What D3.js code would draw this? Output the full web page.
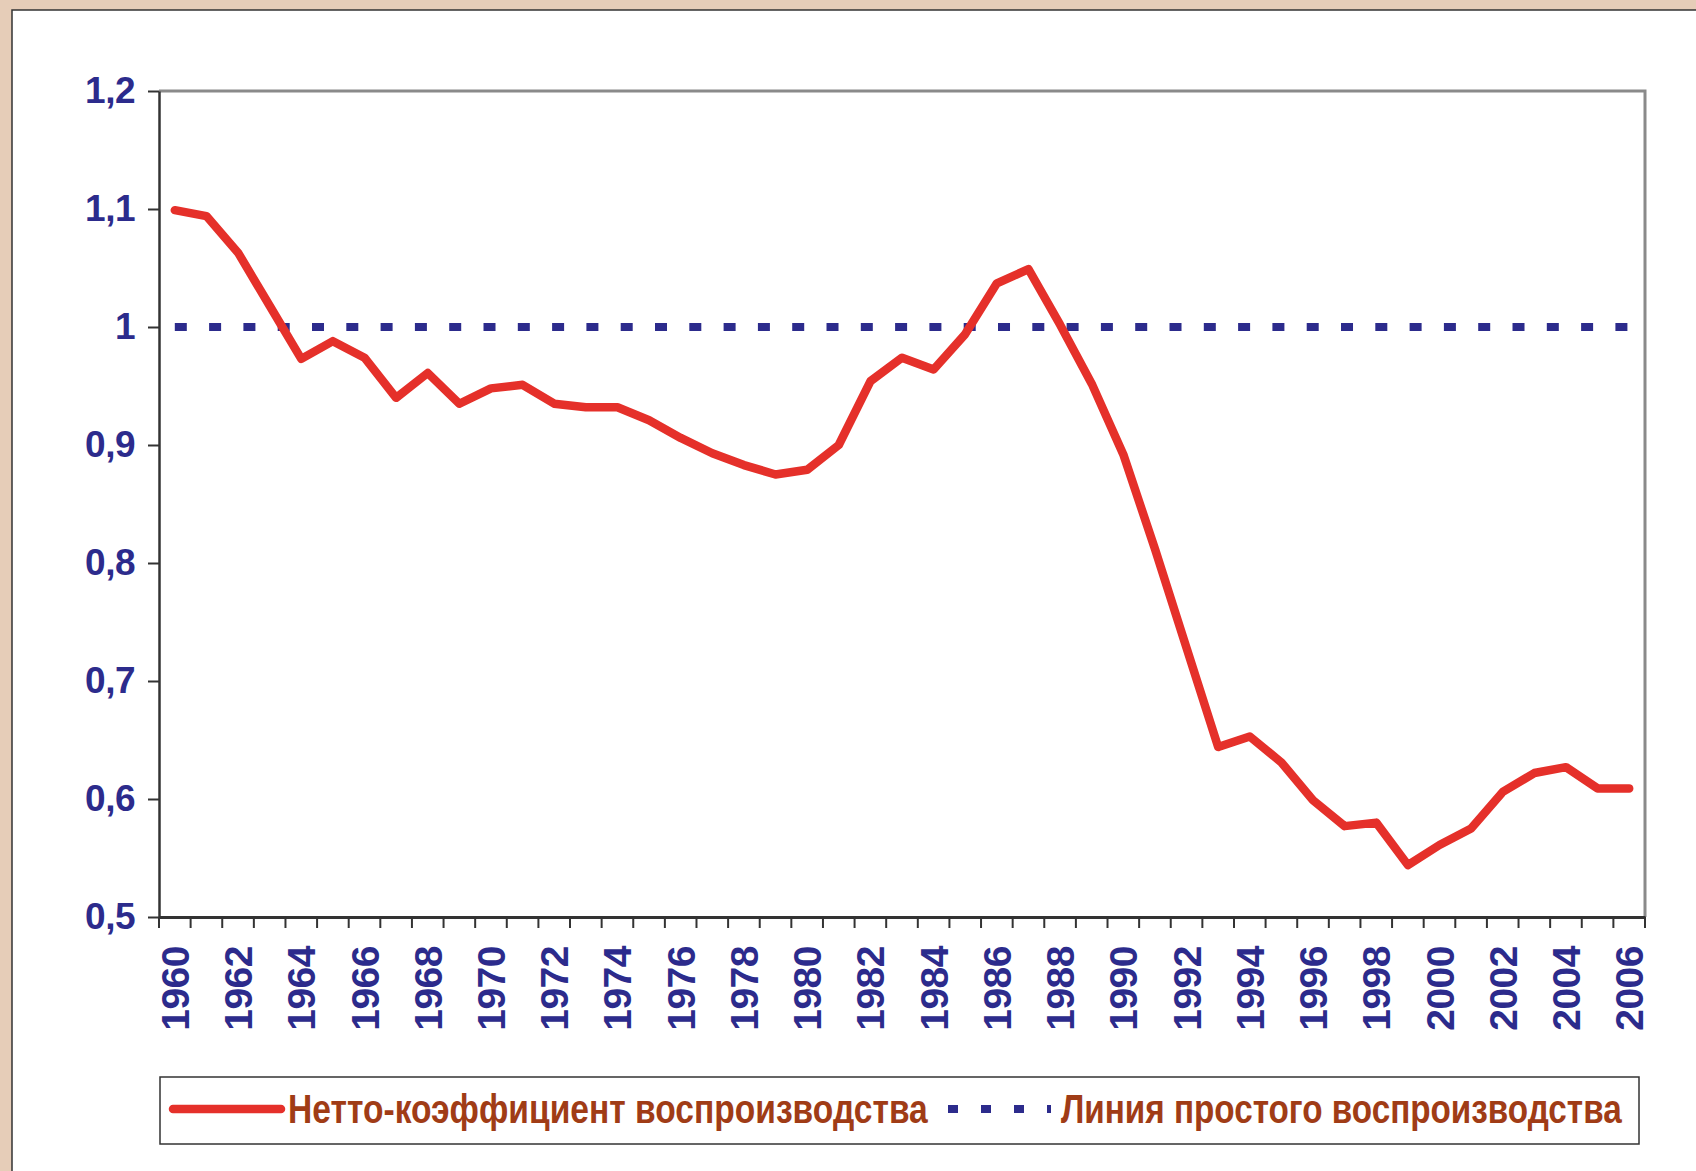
<!DOCTYPE html>
<meta charset="utf-8" />
<script src="https://d3js.org/d3.v7.min.js"></script>
<style>
  body {
    margin: 0;
    background: #e6cdb8;
  }
  text {
    font-family: "Liberation Sans", Arial, sans-serif;
    font-weight: bold;
  }
</style>
<title>Нетто-коэффициент воспроизводства</title>
<body>
  <div id="chart"></div>
  <script>
    // data
    var years = d3.range(1960, 2007);
    var netto = [
      1.099, 1.094, 1.063, 1.018, 0.973, 0.988, 0.974, 0.94, 0.961, 0.935,
      0.948, 0.951, 0.935, 0.932, 0.932, 0.921, 0.906, 0.893, 0.883, 0.875,
      0.879, 0.9, 0.954, 0.974, 0.964, 0.994, 1.037, 1.049, 1.002, 0.952,
      0.892, 0.812, 0.728, 0.644, 0.653, 0.631, 0.599, 0.577, 0.58, 0.544,
      0.561, 0.575, 0.606, 0.622, 0.627, 0.609, 0.609
    ];
    var simple = years.map(function() { return 1; });
    var yTicks = [0.5, 0.6, 0.7, 0.8, 0.9, 1, 1.1, 1.2];
    var legendLabels = [
      "Нетто-коэффициент воспроизводства",
      "Линия простого воспроизводства"
    ];

    var W = 1696, H = 1171;
    var plot = { left: 159, right: 1645, top: 91, bottom: 917 };
    var blue = "#2c2b8c", red = "#e5302a", brown = "#a03c16";

    var svg = d3.select("#chart").append("svg")
      .attr("width", W)
      .attr("height", H);

    // white panel
    svg.append("rect")
      .attr("x", 12).attr("y", 10)
      .attr("width", W).attr("height", H)
      .attr("fill", "#fff")
      .attr("stroke", "#333")
      .attr("stroke-width", 1.5);

    var x = d3.scaleBand().domain(years).range([plot.left, plot.right]);
    var y = d3.scaleLinear().domain([0.5, 1.2]).range([plot.bottom, plot.top]);

    // top and right frame (grey)
    svg.append("path")
      .attr("d", "M" + plot.left + "," + plot.top + "H" + plot.right + "V" + plot.bottom)
      .attr("fill", "none")
      .attr("stroke", "#8a8a8a")
      .attr("stroke-width", 3);

    // y axis
    var yAxis = svg.append("g")
      .attr("transform", "translate(" + plot.left + ",0)")
      .call(d3.axisLeft(y)
        .tickValues(yTicks)
        .tickSize(11)
        .tickSizeOuter(0)
        .tickPadding(13)
        .tickFormat(function(d) {
          return d === 1 ? "1" : d3.format(".1f")(d).replace(".", ",");
        }));
    yAxis.select(".domain").attr("stroke", "#333").attr("stroke-width", 2.5);
    yAxis.selectAll(".tick line").attr("stroke", "#333").attr("stroke-width", 2);
    yAxis.selectAll(".tick text")
      .attr("fill", blue)
      .attr("dy", "0.3em")
      .style("font-size", "37px")
      .style("letter-spacing", "-0.5px");

    // x axis: labels on even years
    var xAxis = svg.append("g")
      .attr("transform", "translate(0," + plot.bottom + ")")
      .call(d3.axisBottom(x)
        .tickValues(years.filter(function(d) { return d % 2 === 0; }))
        .tickSize(0)
        .tickSizeOuter(0));
    xAxis.select(".domain").attr("stroke", "#333").attr("stroke-width", 3);
    xAxis.selectAll(".tick text")
      .attr("fill", blue)
      .attr("transform", "rotate(-90)")
      .attr("x", -29)
      .attr("y", 0)
      .attr("dy", "0.36em")
      .attr("text-anchor", "end")
      .style("font-size", "39px")
      .style("letter-spacing", "-0.5px");

    // tick marks between categories
    var bounds = years.map(function(d) { return x(d); }).concat([x.range()[1]]);
    svg.append("g").selectAll("line")
      .data(bounds)
      .join("line")
      .attr("x1", function(d) { return d; })
      .attr("x2", function(d) { return d; })
      .attr("y1", plot.bottom)
      .attr("y2", plot.bottom + 11)
      .attr("stroke", "#333")
      .attr("stroke-width", 2);

    var line = d3.line()
      .x(function(d, i) { return x(years[i]) + x.bandwidth() / 2; })
      .y(function(d) { return y(d); });

    // reference line 1
    svg.append("path")
      .datum(simple)
      .attr("d", line)
      .attr("fill", "none")
      .attr("stroke", blue)
      .attr("stroke-width", 8)
      .attr("stroke-dasharray", "12,22.3");

    // netto line
    svg.append("path")
      .datum(netto)
      .attr("d", line)
      .attr("fill", "none")
      .attr("stroke", red)
      .attr("stroke-width", 8.5)
      .attr("stroke-linejoin", "round")
      .attr("stroke-linecap", "round");

    // legend
    var lg = svg.append("g");
    lg.append("rect")
      .attr("x", 160).attr("y", 1077)
      .attr("width", 1479).attr("height", 67)
      .attr("fill", "#fff")
      .attr("stroke", "#333")
      .attr("stroke-width", 1.5);
    lg.append("line")
      .attr("x1", 173).attr("x2", 281)
      .attr("y1", 1109).attr("y2", 1109)
      .attr("stroke", red)
      .attr("stroke-width", 8.5)
      .attr("stroke-linecap", "round");
    lg.append("line")
      .attr("x1", 948).attr("x2", 1051)
      .attr("y1", 1109).attr("y2", 1109)
      .attr("stroke", blue)
      .attr("stroke-width", 8)
      .attr("stroke-dasharray", "10,23");

    // condensed labels: squeeze horizontally to the width seen in the picture
    var legendPos = [[288, 640], [1061, 561]];
    lg.selectAll("text.lbl")
      .data(legendLabels)
      .join("text")
      .attr("class", "lbl")
      .attr("x", 0)
      .attr("y", 0)
      .attr("fill", brown)
      .style("font-size", "40px")
      .text(function(d) { return d; })
      .attr("transform", function(d, i) {
        var w = this.getComputedTextLength();
        var sx = legendPos[i][1] / w;
        return "translate(" + legendPos[i][0] + ",1123) scale(" + sx + ",1)";
      });
  </script>
</body>
